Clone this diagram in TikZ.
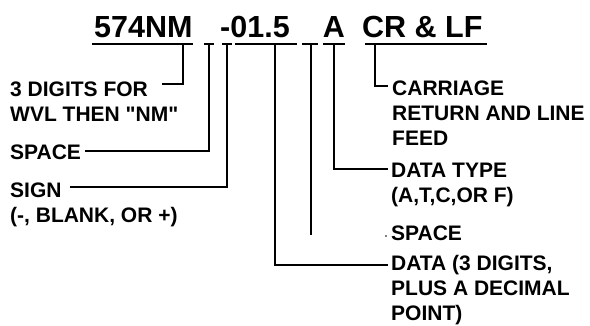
\documentclass[tikz,border=0pt]{standalone}
\usepackage{fontspec}
\newfontfamily\hv{Liberation Sans}
\begin{document}
\begin{tikzpicture}[x=1pt,y=-1pt,
  hdr/.style={font=\hv\fontsize{30.5}{36}\selectfont\bfseries, inner sep=0pt, anchor=base west},
  lbl/.style={font=\hv\fontsize{21}{25}\selectfont\bfseries, inner sep=0pt, anchor=base west, align=left},
  uline/.style={line width=1.3pt},
  conn/.style={line width=1.6pt}]
\useasboundingbox (0,0) rectangle (590,325);
% header fields
\node[hdr] (nm) at (94,37) {574NM};
\node[hdr] (num) at (220,37) {-01.5};
\node[hdr,anchor=base] (typ) at (334,37) {A};
\node[hdr] (crlf) at (362,37) {CR \& LF};
% underline points
\coordinate (u1a) at (92,44);  \coordinate (u1b) at (193,44); \coordinate (t1) at (183,44);
\coordinate (u2a) at (204,44); \coordinate (u2b) at (214,44); \coordinate (t2) at (209,44);
\coordinate (u3a) at (222,44); \coordinate (u3b) at (232,44); \coordinate (t3) at (227,44);
\coordinate (u4a) at (235,44); \coordinate (u4b) at (297,44); \coordinate (t4) at (275,44);
\coordinate (u5a) at (302,44); \coordinate (u5b) at (318,44); \coordinate (t5) at (311,44);
\coordinate (u6a) at (323,44); \coordinate (u6b) at (345,44); \coordinate (t6) at (334,44);
\coordinate (u7a) at (365,44); \coordinate (u7b) at (487,44); \coordinate (t7) at (375,44);
\foreach \i in {1,...,7} \draw[uline] (u\i a) -- (u\i b);
% labels (anchor = baseline of last line)
\node[lbl] (l1) at (10,121) {3 DIGITS FOR\\WVL THEN "NM"};
\node[lbl] (l2) at (10,159) {SPACE};
\node[lbl] (l3) at (10,222) {SIGN\\(-, BLANK, OR +)};
\node[lbl] (r1) at (392,145) {CARRIAGE\\RETURN AND LINE\\FEED};
\node[lbl] (r2) at (391,202) {DATA TYPE\\(A,T,C,OR F)};
\node[lbl] (r3) at (391,240) {SPACE};
\node[lbl] (r4) at (391,320) {DATA (3 DIGITS,\\PLUS A DECIMAL\\POINT)};
% connector ends
\coordinate (e1) at (162,84);
\coordinate (e2) at (85,151);
\coordinate (e3) at (70,187);
\coordinate (e4) at (388,265);
\coordinate (e5) at (311,235);
\coordinate (e6) at (388,169);
\coordinate (e7) at (388,86);
% connectors
\draw[conn] (t1) |- (e1);
\draw[conn] (t2) |- (e2);
\draw[conn] (t3) |- (e3);
\draw[conn] (t4) |- (e4);
\draw[line width=1.1pt] (t5) -- (e5);
\draw[conn] (t6) |- (e6);
\draw[conn] (t7) |- (e7);
\fill (386,236) circle (0.8);
\end{tikzpicture}
\end{document}
